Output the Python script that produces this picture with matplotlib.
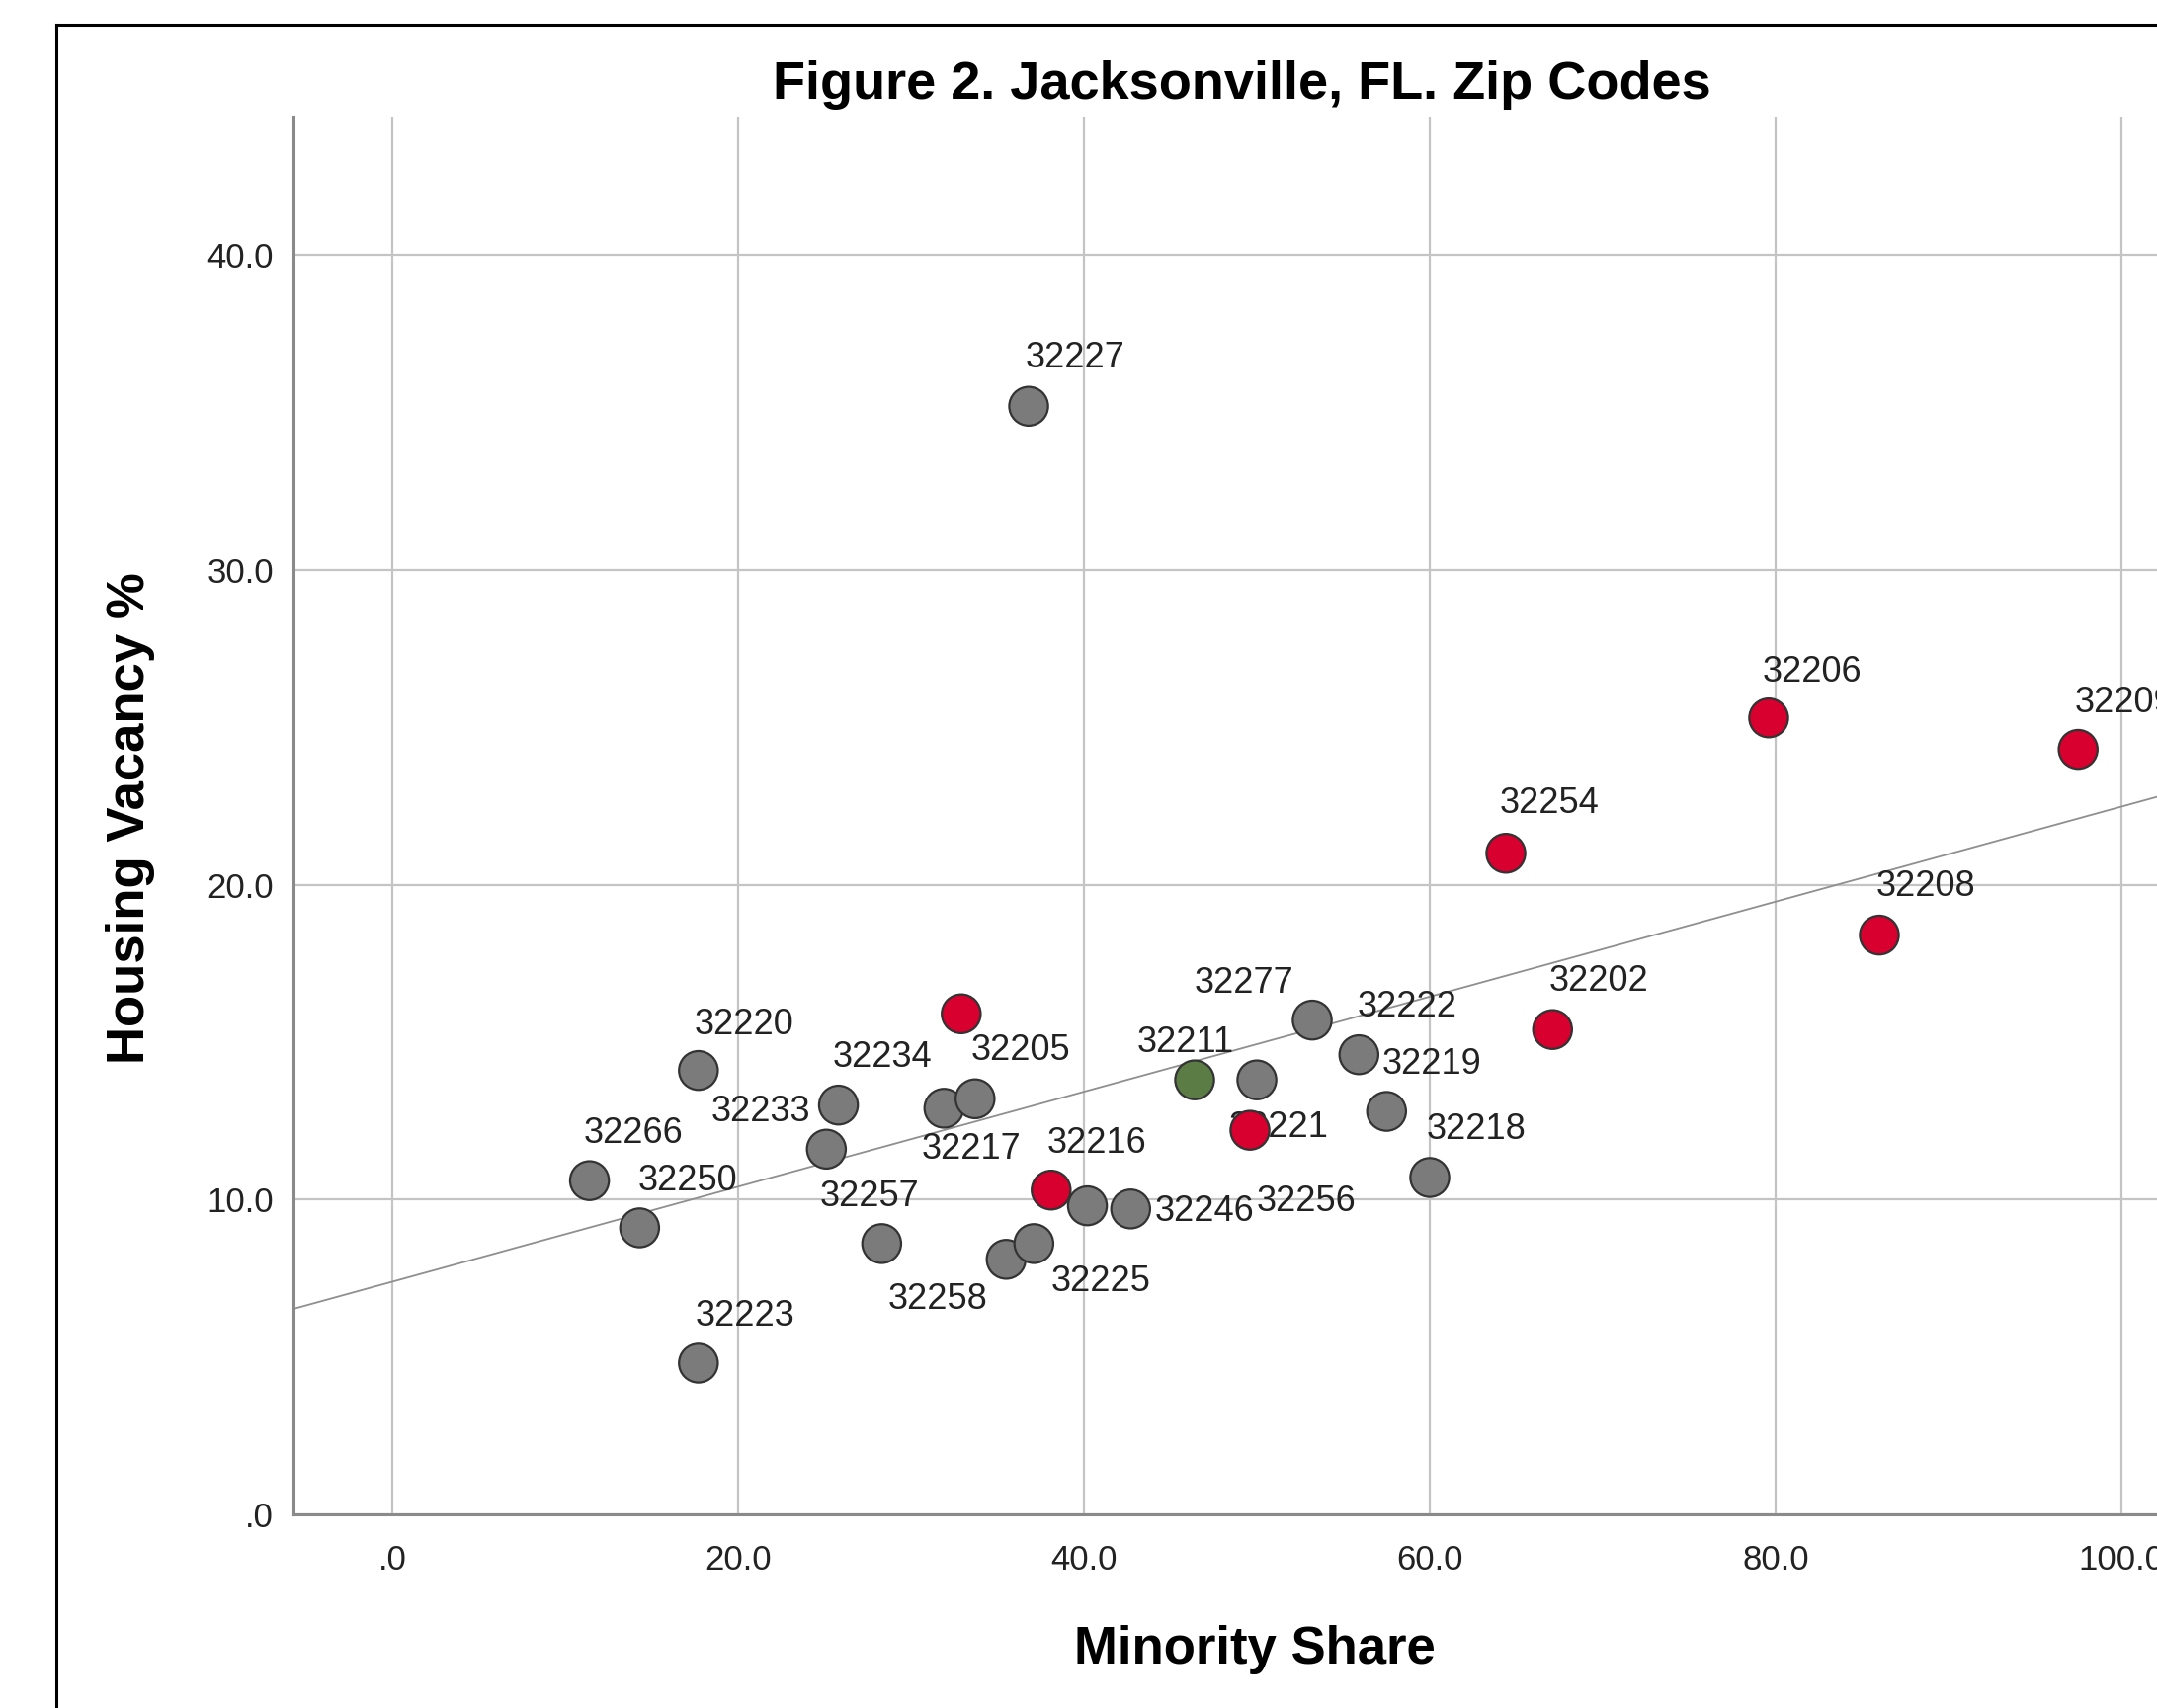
import numpy as np
import matplotlib.pyplot as plt
from matplotlib.lines import Line2D

# zip codes, minority share (%), housing vacancy (%), colour group
zips = ['32227', '32206', '32209', '32254', '32208', '32202', '32277', '32222',
        '32219', '32218', '32211', '32221', '32256', '32220', '32234', '32233',
        '32217', '32205', '', '32216', '32266', '32250', '32257', '32258',
        '32225', '', '32246', '32223']
minority = [36.8, 79.6, 97.5, 64.4, 86.0, 67.1, 53.2, 55.9,
            57.5, 60.0, 46.4, 49.6, 50.0, 17.7, 25.8, 25.1,
            31.9, 33.7, 32.9, 38.1, 11.4, 14.3, 28.3, 35.5,
            37.1, 40.2, 42.7, 17.7]
vacancy = [35.2, 25.3, 24.3, 21.0, 18.4, 15.4, 15.7, 14.6,
           12.8, 10.7, 13.8, 12.2, 13.8, 14.1, 13.0, 11.6,
           12.9, 13.2, 15.9, 10.3, 10.6, 9.1, 8.6, 8.1,
           8.6, 9.8, 9.7, 4.8]
group = ['g', 'r', 'r', 'r', 'r', 'r', 'g', 'g',
         'g', 'g', 'o', 'r', 'g', 'g', 'g', 'g',
         'g', 'g', 'r', 'r', 'g', 'g', 'g', 'g',
         'g', 'g', 'g', 'g']

# label placement (points, relative to the marker)
label_offsets = [(34, 35), (32, 33), (34, 34), (32, 36), (34, 35), (34, 35), (-50, 27), (35, 35),
                 (33, 34), (34, 35), (-7, 27), (21, 2), (36, -89), (33, 33), (32, 35), (-48, 27),
                 (20, -30), (33, 35), (0, 0), (33, 34), (32, 34), (35, 34), (-9, 34), (-50, -29),
                 (49, -28), (0, 0), (54, -2), (34, 34)]

colors = {'g': '#7b7b7b', 'r': '#d7002e', 'o': '#5b7d45'}

plt.rcParams['font.family'] = ['Liberation Sans', 'DejaVu Sans']

fig = plt.figure(figsize=(21.83, 17.29), dpi=100)
ax = fig.add_axes([0.1359, 0.1134, 0.8641, 0.8183])

x = np.array(minority)
y = np.array(vacancy)

ax.set_xlim(-5.74, 102.06)
ax.set_ylim(0, 44.4)

# fit line
slope, intercept = np.polyfit(x, y, 1)
xs = np.array(ax.get_xlim())
ax.plot(xs, intercept + slope * xs, color='#8f8f8f', lw=1.3, zorder=2)

ax.scatter(x, y, s=800, c=[colors[g] for g in group], edgecolors='#333333',
           linewidths=1.6, zorder=4)

for z, xi, yi, off in zip(zips, x, y, label_offsets):
    if z:
        ax.annotate(z, (xi, yi), xytext=off, textcoords='offset points',
                    ha='center', va='center', fontsize=26, color='#222222', zorder=3,
                    annotation_clip=False)

ax.set_xticks([0, 20, 40, 60, 80, 100])
ax.set_xticklabels(['.0', '20.0', '40.0', '60.0', '80.0', '100.0'])
ax.set_yticks([0, 10, 20, 30, 40])
ax.set_yticklabels(['.0', '10.0', '20.0', '30.0', '40.0'])
ax.tick_params(axis='both', length=0, labelsize=25, colors='#222222')
ax.tick_params(axis='x', pad=22)
ax.tick_params(axis='y', pad=14)
ax.grid(True, color='#c4c4c4', lw=1.6, zorder=0)
ax.set_axisbelow(True)
for s in ['top', 'right']:
    ax.spines[s].set_visible(False)
for s in ['left', 'bottom']:
    ax.spines[s].set_color('#8a8a8a')
    ax.spines[s].set_linewidth(2.2)

fig.text(0.5758, 0.950, 'Figure 2. Jacksonville, FL. Zip Codes', ha='center', va='center',
         fontsize=39, fontweight='bold')
fig.text(0.0606, 0.521, 'Housing Vacancy %', ha='center', va='center', rotation=90,
         fontsize=38, fontweight='bold')
fig.text(0.5816, 0.034, 'Minority Share', ha='center', va='center',
         fontsize=38, fontweight='bold')

# outer frame (cut off at right and bottom)
fig.add_artist(Line2D([0.0261, 0.0261], [0, 0.9855], transform=fig.transFigure,
                      color='black', lw=2.2))
fig.add_artist(Line2D([0.0261, 1], [0.9855, 0.9855], transform=fig.transFigure,
                      color='black', lw=2.2))

fig.savefig('out.png', dpi=100)
